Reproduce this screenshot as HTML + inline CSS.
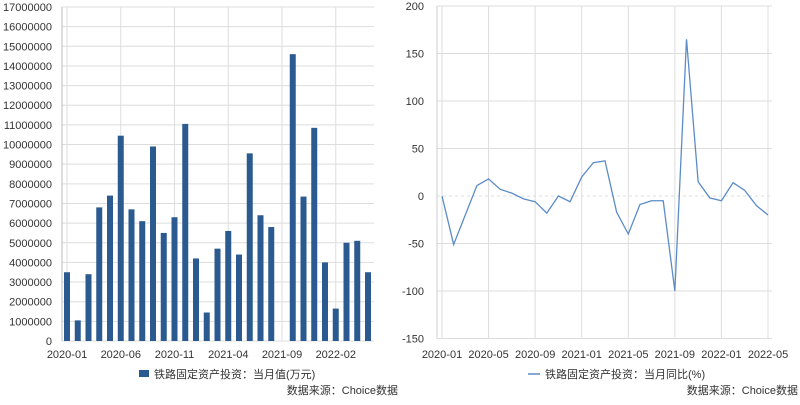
<!DOCTYPE html>
<html><head><meta charset="utf-8"><style>
body{margin:0;background:#fff;width:800px;height:400px;overflow:hidden;font-family:"Liberation Sans","Noto Sans CJK SC",sans-serif}
svg text{font-family:"Liberation Sans","Noto Sans CJK SC",sans-serif;fill:#333;font-size:11px}
</style></head><body>
<svg width="800" height="400">
<g id="left"></g>
<g id="right"></g>
</svg>
<script>
const months=["2020-01","2020-02","2020-03","2020-04","2020-05","2020-06","2020-07","2020-08","2020-09","2020-10","2020-11","2020-12","2021-01","2021-02","2021-03","2021-04","2021-05","2021-06","2021-07","2021-08","2021-09","2021-10","2021-11","2021-12","2022-01","2022-02","2022-03","2022-04","2022-05"];
const barValues=[3500000,1050000,3400000,6800000,7400000,10450000,6700000,6100000,9900000,5500000,6300000,11050000,4200000,1450000,4700000,5600000,4400000,9550000,6400000,5800000,null,14600000,7350000,10850000,4000000,1650000,5000000,5100000,3500000];
const lineValues=[0,-51,-20,11,18,7,3,-3,-6,-18,0,-6,20,35,37,-17,-40,-9,-5,-5,-100,165,15,-2,-5,14,6,-10,-20];
const barTicks=[0,1000000,2000000,3000000,4000000,5000000,6000000,7000000,8000000,9000000,10000000,11000000,12000000,13000000,14000000,15000000,16000000,17000000];
const lineTicks=[-150,-100,-50,0,50,100,150,200];
const barLabelIdx=[0,5,10,15,20,25];
const lineLabelIdx=[0,4,8,12,16,20,24,28];
const NS="http://www.w3.org/2000/svg";
function mk(p,t,a){const e=document.createElementNS(NS,t);for(const k in a)e.setAttribute(k,a[k]);p.appendChild(e);return e;}
// left
const L=document.getElementById('left');
const bx=i=>67+i*10.75, by=v=>341-v*(334/17000000);
barTicks.forEach(t=>{const g=mk(L,'line',{x1:62,x2:374,y1:by(t),y2:by(t),stroke:'#ddd'});

const tx=mk(L,'text',{x:52,y:by(t)+4,'text-anchor':'end'});tx.textContent=t;
});
barLabelIdx.forEach(i=>{const g=mk(L,'line',{x1:bx(i),x2:bx(i),y1:by(17000000),y2:341,stroke:'#ddd'});
});
mk(L,'line',{x1:62,x2:62,y1:7,y2:341,stroke:'#bbb'});
barValues.forEach((v,i)=>{if(v==null)return;const r=mk(L,'rect',{x:bx(i)-3,y:by(v),width:6,height:341-by(v),fill:'#2a5a8f'});
});
barLabelIdx.forEach(i=>{const t=mk(L,'text',{x:bx(i),y:358,'text-anchor':'middle'});t.textContent=months[i];
});
const lg=mk(L,'rect',{x:139,y:370,width:10,height:7,fill:'#2a5a8f'});
let t=mk(L,'text',{x:154,y:378});t.textContent='铁路固定资产投资：当月值(万元)';
t=mk(L,'text',{x:398,y:394,'text-anchor':'end'});t.textContent='数据来源：Choice数据';
// right
const R=document.getElementById('right');
const lx=i=>442+i*(326/28), ly=v=>196-v*(190/200);
lineTicks.forEach(v=>{const g=mk(R,'line',{x1:437,x2:772,y1:ly(v),y2:ly(v),stroke:'#ddd','stroke-dasharray':v===0?'3,3':'none'});

const tx=mk(R,'text',{x:424,y:ly(v)+4,'text-anchor':'end'});tx.textContent=v;
});
mk(R,'line',{x1:437,x2:437,y1:ly(200),y2:ly(-150),stroke:'#ccc'});
lineLabelIdx.forEach(i=>{const g=mk(R,'line',{x1:lx(i),x2:lx(i),y1:ly(200),y2:ly(-150),stroke:'#ddd'});

const tx=mk(R,'text',{x:lx(i),y:358,'text-anchor':'middle'});tx.textContent=months[i];
});
const pl=mk(R,'polyline',{points:lineValues.map((v,i)=>lx(i)+','+ly(v)).join(' '),fill:'none',stroke:'#5b8cc8','stroke-width':1.3});

const ll=mk(R,'line',{x1:528,x2:540,y1:374,y2:374,stroke:'#5b8cc8','stroke-width':1.5});
t=mk(R,'text',{x:545,y:378});t.textContent='铁路固定资产投资：当月同比(%)';
t=mk(R,'text',{x:798,y:394,'text-anchor':'end'});t.textContent='数据来源：Choice数据';
</script>
</body></html>
